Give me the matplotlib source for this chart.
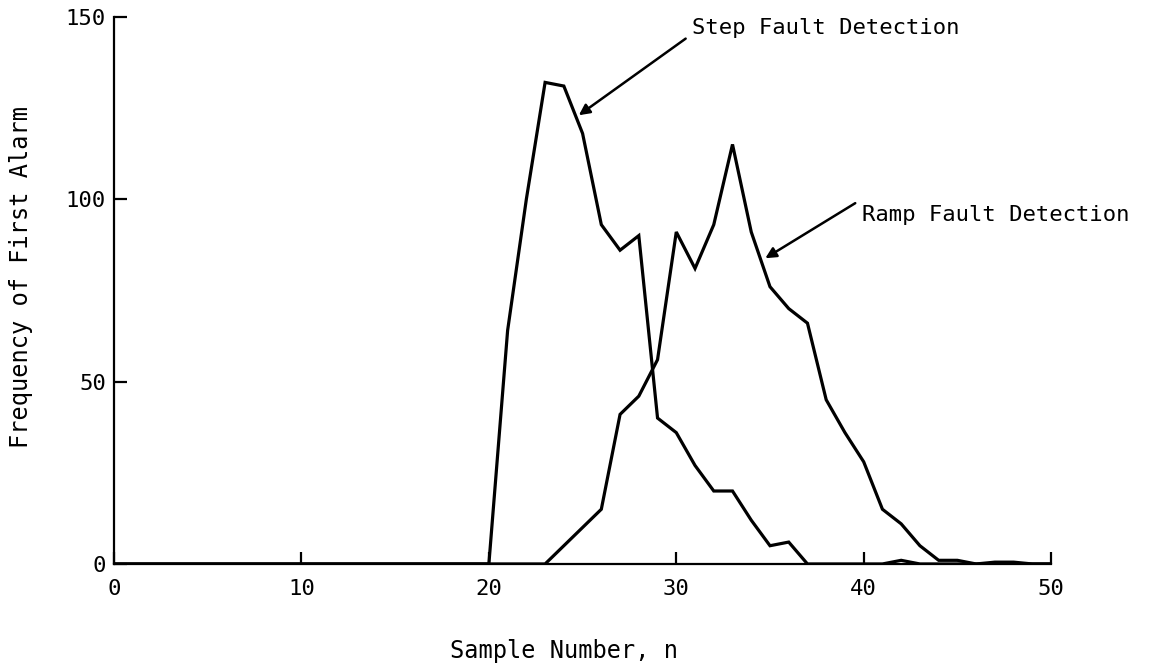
import matplotlib
matplotlib.use('Agg')
import matplotlib.pyplot as plt

# sample numbers 0..50
samples = list(range(51))

# frequency of first alarm, step fault
step_freq = [0] * 21 + [64, 100, 132, 131, 118, 93, 86, 90, 40, 36,
                        27, 20, 20, 12, 5, 6, 0, 0, 0, 0,
                        0, 1, 0, 0, 0, 0, 0, 0, 0, 0]

# frequency of first alarm, ramp fault
ramp_freq = [0] * 24 + [5, 10, 15, 41, 46, 56, 91, 81, 93, 115,
                        91, 76, 70, 66, 45, 36, 28, 15, 11, 5,
                        1, 1, 0, 0.5, 0.5, 0, 0]
ramp_freq = ramp_freq[:51]

x_ticks = [0, 10, 20, 30, 40, 50]
y_ticks = [0, 50, 100, 150]

plt.rcParams['font.family'] = ['DejaVu Sans Mono']
fs = 16

fig = plt.figure(figsize=(11.64, 6.69), dpi=100)
ax = fig.add_axes([0.098, 0.157, 0.805, 0.818])

ax.plot(samples, step_freq, color='black', lw=2.3, solid_joinstyle='miter')
ax.plot(samples, ramp_freq, color='black', lw=2.3, solid_joinstyle='miter')

ax.set_xlim(0, 50)
ax.set_ylim(0, 150)
ax.set_xticks(x_ticks)
ax.set_yticks(y_ticks)
ax.tick_params(direction='in', length=9, width=1.6, labelsize=fs)
ax.tick_params(axis='x', pad=11)
ax.tick_params(axis='y', pad=6)

for side in ['top', 'right']:
    ax.spines[side].set_visible(False)
for side in ['left', 'bottom']:
    ax.spines[side].set_linewidth(1.6)

ax.set_xlabel('Sample Number, n', fontsize=17)
ax.set_ylabel('Frequency of First Alarm', fontsize=17)
ax.xaxis.set_label_coords(0.48, -0.137)
ax.yaxis.set_label_coords(-0.087, 0.525)

# annotations
arrow = dict(arrowstyle='-|>', color='black', lw=1.8, mutation_scale=16,
             shrinkA=0, shrinkB=0)
ax.annotate('', xy=(24.8, 123), xytext=(30.5, 144), arrowprops=arrow,
            annotation_clip=False)
ax.text(30.85, 147, 'Step Fault Detection', fontsize=fs, ha='left',
        va='center', clip_on=False)

ax.annotate('', xy=(34.75, 83.8), xytext=(39.55, 98.9), arrowprops=arrow,
            annotation_clip=False)
ax.text(39.9, 95.6, 'Ramp Fault Detection', fontsize=fs, ha='left',
        va='center', clip_on=False)

fig.savefig('out.png', dpi=100)
